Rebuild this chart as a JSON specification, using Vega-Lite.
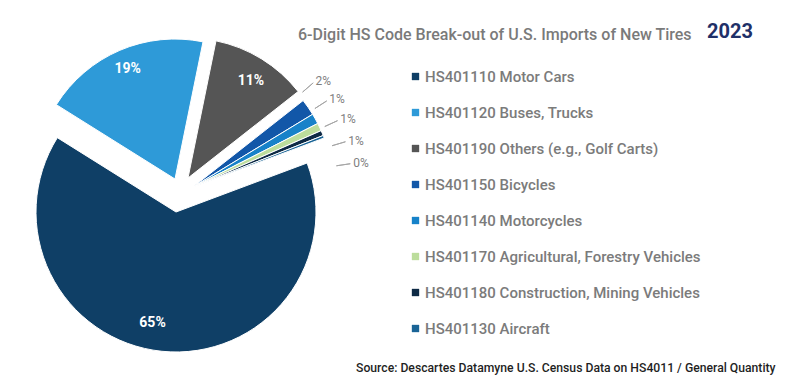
{
  "$schema": "https://vega.github.io/schema/vega-lite/v6.json",
  "background": "white",
  "padding": 0,
  "config": {"view": {"stroke": null}, "font": "Roboto", "concat": {"spacing": 0}},
  "title": {"text": "Source: Descartes Datamyne U.S. Census Data on HS4011 / General Quantity", "orient": "bottom", "anchor": "start", "frame": "group", "dx": 356, "dy": -4, "offset": 0, "fontSize": 12.2, "fontWeight": 500, "color": "#1f1f1f", "font": "Roboto", "baseline": "alphabetic"},
  "vconcat": [{
    "title": {"text": "2023", "orient": "top", "anchor": "start", "frame": "group", "dx": 707, "dy": 58, "offset": 0, "fontSize": 20, "fontWeight": "bold", "color": "#1F3068", "font": "Roboto", "baseline": "alphabetic"},
    "hconcat": [{
      "title": {"text": "6-Digit HS Code Break-out of U.S. Imports of New Tires", "orient": "top", "anchor": "start", "frame": "group", "dx": 298, "dy": 56, "offset": 0, "fontSize": 16, "fontWeight": 500, "color": "#7a7a7a", "font": "Roboto", "baseline": "alphabetic"},
      "width": 360,
      "height": 376,
      "data": {"values": [
        {"name": "HS401110 Motor Cars", "share": 0.646, "rank": 1},
        {"name": "HS401120 Buses, Trucks", "share": 0.193, "rank": 2},
        {"name": "HS401190 Others (e.g., Golf Carts)", "share": 0.112, "rank": 3},
        {"name": "HS401150 Bicycles", "share": 0.019, "rank": 4},
        {"name": "HS401140 Motorcycles", "share": 0.012, "rank": 5},
        {"name": "HS401170 Agricultural, Forestry Vehicles", "share": 0.009, "rank": 6},
        {"name": "HS401180 Construction, Mining Vehicles", "share": 0.006, "rank": 7},
        {"name": "HS401130 Aircraft", "share": 0.003, "rank": 8}
      ]},
      "layer": [
        {
          "mark": {"type": "arc", "radius": 140, "stroke": "white", "strokeWidth": 1, "xOffset": -4, "yOffset": 24},
          "encoding": {
            "theta": {"field": "share", "type": "quantitative", "stack": true, "scale": {"domain": [0, 1], "range": [1.213, 7.4962]}},
            "order": {"field": "rank", "type": "quantitative"},
            "color": {"field": "name", "type": "nominal", "scale": {"domain": ["HS401110 Motor Cars", "HS401120 Buses, Trucks", "HS401190 Others (e.g., Golf Carts)", "HS401150 Bicycles", "HS401140 Motorcycles", "HS401170 Agricultural, Forestry Vehicles", "HS401180 Construction, Mining Vehicles", "HS401130 Aircraft"], "range": ["#0F3F66", "#2E9AD8", "#555555", "#1257A8", "#1782C9", "#BCDD9C", "#0E2A45", "#1A6496"]},
              "legend": {"orient": "none", "legendX": 408, "legendY": 69, "title": null, "symbolType": "square", "symbolSize": 54, "symbolStrokeWidth": 0, "labelFontSize": 15, "labelFont": "Roboto", "labelColor": "#7b7b7b", "labelFontWeight": 500, "rowPadding": 20, "labelOffset": 2, "padding": 0, "labelLimit": 400}},
            "opacity": {"condition": {"test": "datum.rank === 1", "value": 1}, "value": 0}
          }
        },
        {
          "mark": {"type": "arc", "radius": 140, "stroke": "white", "strokeWidth": 1, "xOffset": -5, "yOffset": -9},
          "encoding": {
            "theta": {"field": "share", "type": "quantitative", "stack": true, "scale": {"domain": [0, 1], "range": [1.213, 7.4962]}},
            "order": {"field": "rank", "type": "quantitative"},
            "color": {"field": "name", "type": "nominal"},
            "opacity": {"condition": {"test": "datum.rank === 2", "value": 1}, "value": 0}
          }
        },
        {
          "mark": {"type": "arc", "radius": 140, "stroke": "white", "strokeWidth": 1, "xOffset": 8, "yOffset": -10},
          "encoding": {
            "theta": {"field": "share", "type": "quantitative", "stack": true, "scale": {"domain": [0, 1], "range": [1.213, 7.4962]}},
            "order": {"field": "rank", "type": "quantitative"},
            "color": {"field": "name", "type": "nominal"},
            "opacity": {"condition": {"test": "datum.rank === 3", "value": 1}, "value": 0}
          }
        },
        {
          "mark": {"type": "arc", "radius": 140, "stroke": "white", "strokeWidth": 1, "xOffset": 13, "yOffset": -1},
          "encoding": {
            "theta": {"field": "share", "type": "quantitative", "stack": true, "scale": {"domain": [0, 1], "range": [1.213, 7.4962]}},
            "order": {"field": "rank", "type": "quantitative"},
            "color": {"field": "name", "type": "nominal"},
            "opacity": {"condition": {"test": "datum.rank >= 4", "value": 1}, "value": 0}
          }
        },
        {
          "transform": [{"filter": "datum.rank >= 4"}],
          "mark": {"type": "arc", "radius": 159, "radius2": 145, "stroke": "#a6a6a6", "strokeWidth": 1, "fill": null, "xOffset": 13, "yOffset": -1},
          "encoding": {
            "theta": {"field": "rank", "type": "quantitative", "stack": null, "scale": {"domain": [4, 8], "range": [0.857, 1.424], "zero": false}},
            "theta2": {"field": "rank"}
          }
        },
        {
          "transform": [{"filter": "datum.rank >= 4"}],
          "mark": {"type": "text", "radius": 162, "align": "left", "baseline": "middle", "fontSize": 12, "font": "Roboto", "fill": "#7f7f7f", "xOffset": 13, "yOffset": -1},
          "encoding": {
            "theta": {"field": "rank", "type": "quantitative", "stack": null, "scale": {"domain": [4, 8], "range": [0.857, 1.424], "zero": false}},
            "text": {"field": "share", "type": "quantitative", "format": ".0%"}
          }
        },
        {
          "mark": {"type": "text", "radius": 114, "fontSize": 14, "fontWeight": "bold", "font": "Roboto", "fill": "white", "xOffset": -4, "yOffset": 24, "dx": -12, "dy": -2},
          "encoding": {
            "theta": {"field": "share", "type": "quantitative", "stack": true, "scale": {"domain": [0, 1], "range": [1.213, 7.4962]}},
            "order": {"field": "rank", "type": "quantitative"},
            "detail": {"field": "name", "type": "nominal"},
            "text": {"field": "share", "type": "quantitative", "format": ".0%"},
            "opacity": {"condition": {"test": "datum.rank === 1", "value": 1}, "value": 0}
          }
        },
        {
          "mark": {"type": "text", "radius": 120, "fontSize": 14, "fontWeight": "bold", "font": "Roboto", "fill": "white", "xOffset": -5, "yOffset": -9},
          "encoding": {
            "theta": {"field": "share", "type": "quantitative", "stack": true, "scale": {"domain": [0, 1], "range": [1.213, 7.4962]}},
            "order": {"field": "rank", "type": "quantitative"},
            "detail": {"field": "name", "type": "nominal"},
            "text": {"field": "share", "type": "quantitative", "format": ".0%"},
            "opacity": {"condition": {"test": "datum.rank === 2", "value": 1}, "value": 0}
          }
        },
        {
          "mark": {"type": "text", "radius": 116, "fontSize": 14, "fontWeight": "bold", "font": "Roboto", "fill": "white", "xOffset": 8, "yOffset": -10, "dx": 2, "dy": 2},
          "encoding": {
            "theta": {"field": "share", "type": "quantitative", "stack": true, "scale": {"domain": [0, 1], "range": [1.213, 7.4962]}},
            "order": {"field": "rank", "type": "quantitative"},
            "detail": {"field": "name", "type": "nominal"},
            "text": {"field": "share", "type": "quantitative", "format": ".0%"},
            "opacity": {"condition": {"test": "datum.rank === 3", "value": 1}, "value": 0}
          }
        }
      ],
      "resolve": {"scale": {"theta": "independent"}}
    }]
  }]
}
